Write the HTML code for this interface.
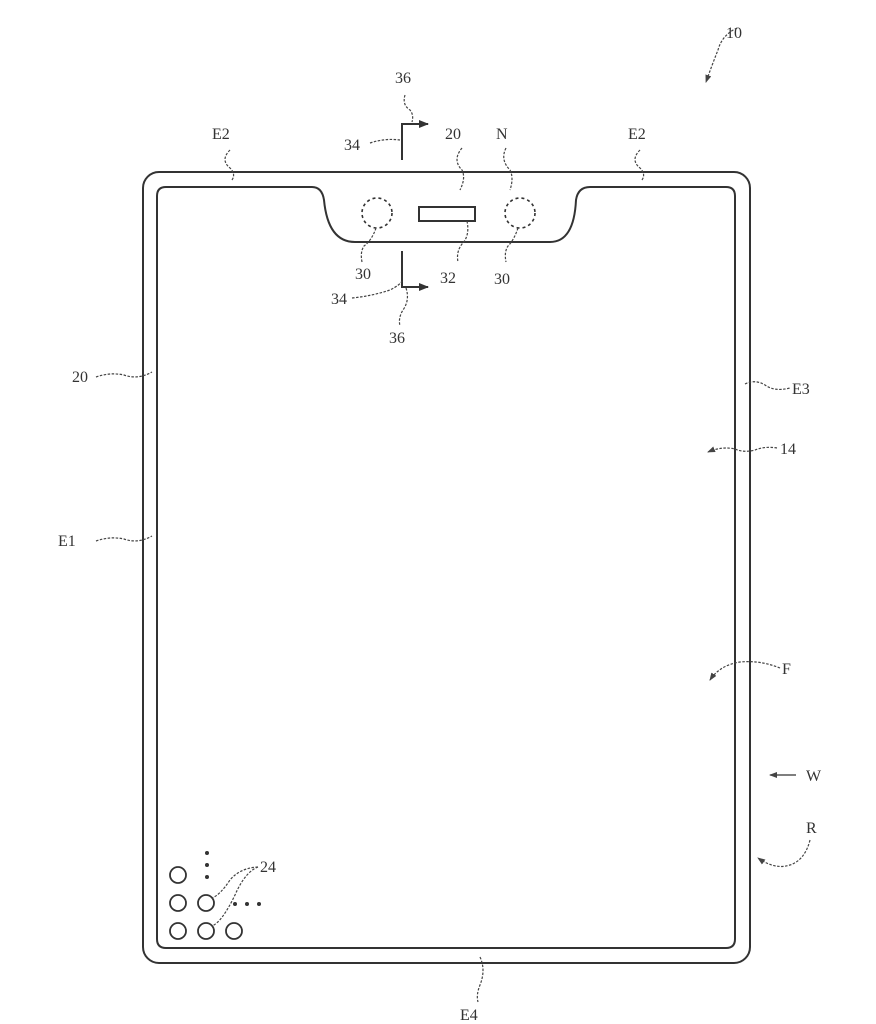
<!DOCTYPE html>
<html><head><style>body{margin:0;background:#fff}svg{display:block}text{font-family:"Liberation Serif",serif;font-size:16px;fill:#333}</style></head>
<body>
<svg width="876" height="1024" viewBox="0 0 876 1024" xmlns="http://www.w3.org/2000/svg">
<defs><marker id="a" markerWidth="10" markerHeight="8" refX="9" refY="4" orient="auto" markerUnits="userSpaceOnUse"><path d="M0,0 L10,4 L0,8 Z" fill="#333"/></marker>
<marker id="s" markerWidth="8" markerHeight="6" refX="7" refY="3" orient="auto" markerUnits="userSpaceOnUse"><path d="M0,0 L8,3 L0,6 Z" fill="#444"/></marker></defs>
<g fill="none" stroke="#333" stroke-width="2">
<rect x="143" y="172" width="607" height="791" rx="16"/>
<path d="M170,187 L312,187 Q322,187 324,200 Q328,242 355,242 L550,242 Q574,242 576,200 Q578,187 590,187 L726,187 Q735,187 735,196 L735,939 Q735,948 726,948 L166,948 Q157,948 157,939 L157,196 Q157,187 166,187 Z"/>
<circle cx="377" cy="213" r="15" stroke-dasharray="3 3" stroke-width="1.6"/>
<circle cx="520" cy="213" r="15" stroke-dasharray="3 3" stroke-width="1.6"/>
<rect x="419" y="207" width="56" height="14"/>
<path d="M402,160 L402,124 L428,124" marker-end="url(#a)"/>
<path d="M402,251 L402,287 L428,287" marker-end="url(#a)"/>
<g stroke-width="1.8">
<circle cx="178" cy="875" r="8"/><circle cx="178" cy="903" r="8"/><circle cx="178" cy="931" r="8"/>
<circle cx="206" cy="903" r="8"/><circle cx="206" cy="931" r="8"/><circle cx="234" cy="931" r="8"/>
</g>
</g>
<g fill="#333"><circle cx="207" cy="853" r="2"/><circle cx="207" cy="865" r="2"/><circle cx="207" cy="877" r="2"/>
<circle cx="235" cy="904" r="2"/><circle cx="247" cy="904" r="2"/><circle cx="259" cy="904" r="2"/></g>
<g fill="none" stroke="#444" stroke-width="1.2" stroke-dasharray="2.5 1.5">
<path d="M230,150 Q220,160 230,168 Q236,174 232,180"/>
<path d="M640,150 Q630,160 640,168 Q646,174 642,180"/>
<path d="M370,143 Q385,138 400,140"/>
<path d="M405,95 Q402,105 410,110 Q414,115 412,122"/>
<path d="M462,148 Q452,160 462,170 Q466,178 460,190"/>
<path d="M506,148 Q500,160 510,170 Q514,178 510,190"/>
<path d="M376,228 Q372,240 364,246 Q360,252 362,262"/>
<path d="M467,221 Q470,236 462,244 Q456,252 458,262"/>
<path d="M518,228 Q514,240 508,246 Q504,252 506,262"/>
<path d="M352,298 Q372,296 390,290 Q400,285 402,281"/>
<path d="M406,288 Q410,300 403,310 Q398,318 400,326"/>
<path d="M96,377 Q110,372 124,375 Q138,380 152,372"/>
<path d="M96,541 Q110,536 124,539 Q138,544 152,536"/>
<path d="M745,384 Q755,379 765,385 Q775,392 790,388"/>
<path d="M777,448 Q765,446 755,450 Q744,453 735,449 Q722,446 708,452" marker-end="url(#s)"/>
<path d="M780,668 Q760,660 740,662 Q720,665 710,680" marker-end="url(#s)"/>
<path d="M810,840 Q805,860 790,865 Q775,870 758,858" marker-end="url(#s)"/>
<path d="M737,28 Q722,35 718,50 Q712,65 706,82" marker-end="url(#s)"/>
<path d="M258,867 Q240,868 230,880 Q220,895 212,898"/>
<path d="M258,867 Q245,872 235,895 Q222,922 212,926"/>
<path d="M480,957 Q486,970 480,985 Q476,995 478,1002"/>
</g>
<path d="M796,775 L770,775" stroke="#333" stroke-width="1.3" marker-end="url(#s)"/>
<g>
<text x="726" y="38">10</text>
<text x="395" y="83">36</text>
<text x="212" y="139">E2</text>
<text x="628" y="139">E2</text>
<text x="344" y="150">34</text>
<text x="445" y="139">20</text>
<text x="496" y="139">N</text>
<text x="355" y="279">30</text>
<text x="440" y="283">32</text>
<text x="494" y="284">30</text>
<text x="331" y="304">34</text>
<text x="389" y="343">36</text>
<text x="72" y="382">20</text>
<text x="792" y="394">E3</text>
<text x="780" y="454">14</text>
<text x="58" y="546">E1</text>
<text x="782" y="674">F</text>
<text x="806" y="781">W</text>
<text x="806" y="833">R</text>
<text x="260" y="872">24</text>
<text x="460" y="1020">E4</text>
</g>
</svg>
</body></html>
